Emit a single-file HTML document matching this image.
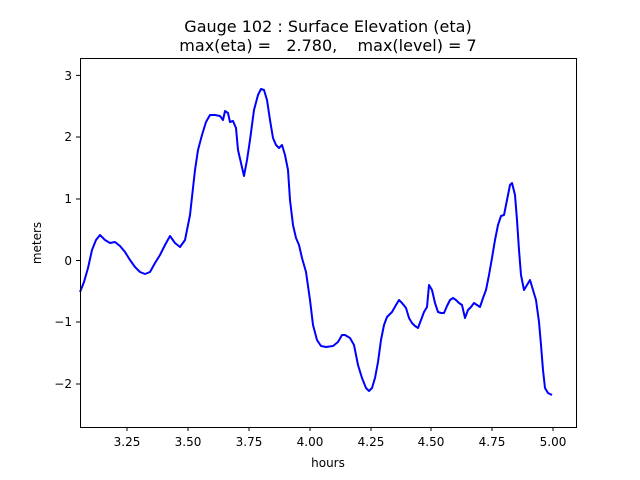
<!DOCTYPE html>
<html><head><style>body{margin:0;background:#fff}svg{display:block}text{font-family:"DejaVu Sans","Liberation Sans",sans-serif;fill:#000}</style></head><body>
<svg width="640" height="480" viewBox="0 0 640 480" xmlns="http://www.w3.org/2000/svg">
<rect width="640" height="480" fill="#fff"/>
<text x="328" y="32" font-size="16" text-anchor="middle">Gauge 102 : Surface Elevation (eta)</text>
<text x="328" y="51" font-size="16" text-anchor="middle" xml:space="preserve">max(eta) =   2.780,    max(level) = 7</text>
<polyline fill="none" stroke="#0000ff" stroke-width="2" stroke-linejoin="round" points="80,292 84,282 88,268 92,250 96,240 100,235 105,240 110,243 115,242 120,246 125,252 130,260 135,267 140,272 145,274 150,272 155,263 160,255 165,245 170,236 175,243 180,247 185,240 190,215 195,170 198,150 202,135 206,122 210,115 215,115 220,116 223,120 225,111 228,113 230,122 233,121 236,128 238,150 241,163 244,176 247,160 250,140 254,110 258,95 261,89 264,90 267,100 270,120 273,138 276,145 279,148 282,145 285,155 288,170 290,200 293,225 296,238 299,245 302,258 306,272 310,300 313,325 317,340 321,346 326,347 333,346 338,342 342,335 345,335 350,338 354,345 358,365 362,378 366,388 369,391 372,388 375,378 378,362 381,340 384,325 387,317 392,312 396,305 399,300 402,303 406,308 409,318 412,323 415,326 418,328 421,320 424,312 427,307 429,285 432,290 435,303 438,312 441,313 444,313 447,306 450,300 453,298 456,300 459,303 462,305 465,318 468,310 471,307 474,303 477,305 480,307 483,298 486,290 489,275 492,258 495,240 498,225 501,216 504,215 507,200 510,185 512,183 515,195 517,220 519,250 521,275 524,290 527,285 530,280 533,290 536,300 539,322 541,345 543,370 545,388 548,393 552,395"/>
<rect x="80.5" y="58.5" width="496" height="369" fill="none" stroke="#000" stroke-width="1"/>
<g stroke="#000" stroke-width="1">
<line x1="127" y1="427" x2="127" y2="431"/><line x1="188" y1="427" x2="188" y2="431"/><line x1="249" y1="427" x2="249" y2="431"/><line x1="310" y1="427" x2="310" y2="431"/><line x1="371" y1="427" x2="371" y2="431"/><line x1="431" y1="427" x2="431" y2="431"/><line x1="492" y1="427" x2="492" y2="431"/><line x1="553" y1="427" x2="553" y2="431"/>
<line x1="76" y1="75.4" x2="80" y2="75.4"/><line x1="76" y1="137" x2="80" y2="137"/><line x1="76" y1="199" x2="80" y2="199"/><line x1="76" y1="260.5" x2="80" y2="260.5"/><line x1="76" y1="322" x2="80" y2="322"/><line x1="76" y1="384" x2="80" y2="384"/>
</g>
<g font-size="12" text-anchor="middle">
<text x="127" y="446">3.25</text><text x="188" y="446">3.50</text><text x="249" y="446">3.75</text><text x="310" y="446">4.00</text><text x="371" y="446">4.25</text><text x="431" y="446">4.50</text><text x="492" y="446">4.75</text><text x="553" y="446">5.00</text>
<text x="328" y="467">hours</text>
</g>
<g font-size="12" text-anchor="end">
<text x="72" y="80">3</text><text x="72" y="141">2</text><text x="72" y="203">1</text><text x="72" y="265">0</text><text x="72" y="326">−1</text><text x="72" y="388">−2</text>
</g>
<text font-size="12" text-anchor="middle" transform="translate(41,243) rotate(-90)">meters</text>
</svg>
</body></html>
